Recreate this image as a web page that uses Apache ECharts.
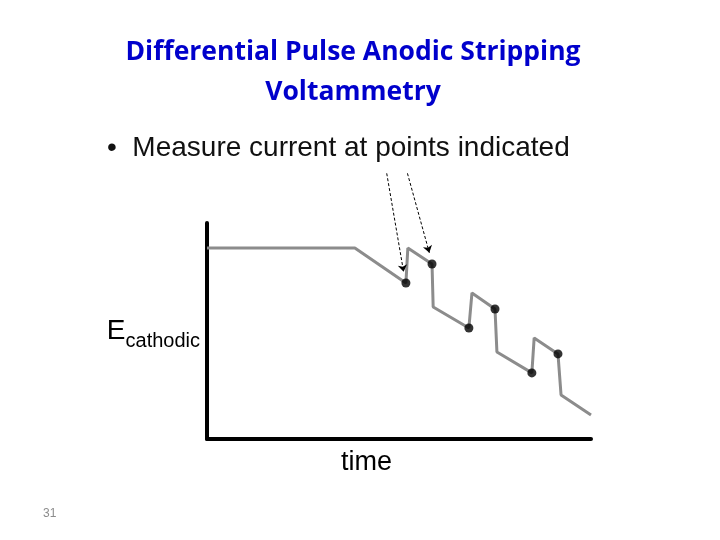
<!DOCTYPE html>
<html>
<head>
<meta charset="utf-8">
<script src="https://cdn.jsdelivr.net/npm/echarts@6/dist/echarts.min.js"></script>
<style>
  html, body { margin: 0; padding: 0; background: #fff; }
  #chart { width: 720px; height: 540px; }
</style>
</head>
<body>
<div id="chart"></div>
<script>
// staircase potential waveform (time, E) in arbitrary units
const waveTime = [0, 38.5, 51.8, 52.3, 58.6, 58.9, 68.2, 69.0, 75.0, 75.5, 84.6, 85.2, 91.4, 92.2, 100];
const wavePotential = [88.4, 88.4, 72.2, 88.4, 81.0, 61.1, 51.4, 67.6, 60.2, 40.3, 30.6, 46.8, 39.4, 20.4, 11.1];

// points where the current is measured
const dotTime = [51.8, 58.6, 68.2, 75.0, 84.6, 91.4];
const dotPotential = [72.2, 81.0, 51.4, 60.2, 30.6, 39.4];

// arrows from the caption to the first two points
const arrowFrom = [[46.8, 123.0], [52.2, 123.0]];
const arrowTo = [[51.2, 77.4], [57.9, 86.2]];

const waveData = waveTime.map((t, i) => [t, wavePotential[i]]);
const dotData = dotTime.map((t, i) => [t, dotPotential[i]]);
const arrowData = arrowFrom.map((p, i) => ({ coords: [p, arrowTo[i]] }));

const sans = "'Liberation Sans', Arial, sans-serif";

const chart = echarts.init(document.getElementById("chart"));
const option = {
  animation: false,
  backgroundColor: "#fff",
  title: {
    text: "Differential Pulse Anodic Stripping\nVoltammetry",
    left: 348,
    top: 27,
    textAlign: "center",
    textStyle: {
      color: "#0000cc",
      fontFamily: "'Open Sans', Lato, sans-serif",
      fontWeight: "bold",
      fontSize: 26.5,
      lineHeight: 40,
    },
  },
  grid: { left: 207, top: 223, width: 384, height: 216 },
  xAxis: {
    type: "value",
    min: 0,
    max: 100,
    axisLine: { show: true, lineStyle: { color: "#000", width: 4 } },
    axisTick: { show: false },
    axisLabel: { show: false },
    splitLine: { show: false },
  },
  yAxis: {
    type: "value",
    min: 0,
    max: 100,
    name: "{e|E}{s|cathodic}",
    nameLocation: "middle",
    nameRotate: 0,
    nameGap: 7,
    nameTextStyle: {
      rich: {
        e: { fontFamily: sans, fontSize: 28, color: "#000", lineHeight: 28, verticalAlign: "top" },
        s: { fontFamily: sans, fontSize: 20, color: "#000", lineHeight: 20, verticalAlign: "top", padding: [14, 0, 0, 0] },
      },
    },
    axisLine: { show: true, lineStyle: { color: "#000", width: 4 } },
    axisTick: { show: false },
    axisLabel: { show: false },
    splitLine: { show: false },
  },
  graphic: [
    {
      type: "text",
      left: 107,
      top: 134,
      style: { text: "•  Measure current at points indicated", font: "28px " + sans, fill: "#111" },
    },
    {
      type: "text",
      left: 341,
      top: 449,
      style: { text: "time", font: "27px " + sans, fill: "#000" },
    },
    {
      type: "text",
      left: 43,
      top: 508,
      style: { text: "31", font: "12px " + sans, fill: "#8c8c8c" },
    },
  ],
  series: [
    {
      type: "line",
      data: waveData,
      symbol: "none",
      lineStyle: { color: "#8c8c8c", width: 3 },
      z: 2,
    },
    {
      type: "scatter",
      data: dotData,
      symbolSize: 9,
      itemStyle: { color: "#000" },
      z: 3,
    },
    {
      type: "lines",
      coordinateSystem: "cartesian2d",
      clip: false,
      data: arrowData,
      symbol: ["none", "arrow"],
      symbolSize: 7,
      lineStyle: { color: "#000", width: 1, type: [3, 2], opacity: 1 },
      z: 4,
    },
  ],
};
chart.setOption(option);
</script>
</body>
</html>
